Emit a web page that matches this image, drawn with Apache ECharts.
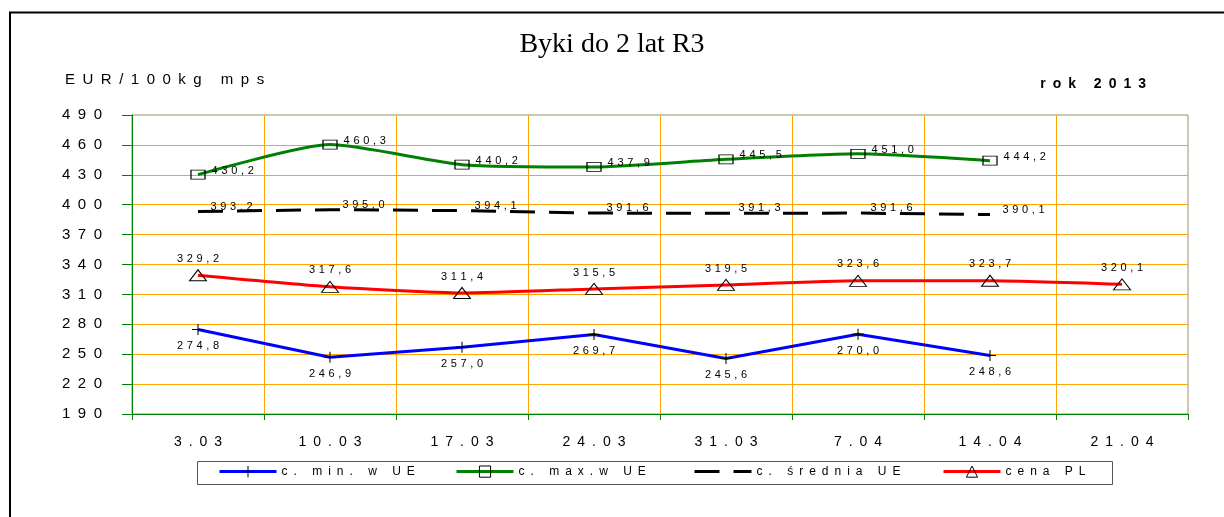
<!DOCTYPE html>
<html>
<head>
<meta charset="utf-8">
<script src="https://cdn.jsdelivr.net/npm/echarts@6/dist/echarts.min.js"></script>
<style>
  html, body { margin: 0; padding: 0; background: #fff; }
  #chart { width: 1224px; height: 517px; }
</style>
</head>
<body>
<div id="chart"></div>
<script>
// dane z wykresu
var categories = ['3.03', '10.03', '17.03', '24.03', '31.03', '7.04', '14.04', '21.04'];
var minUE   = [274.8, 246.9, 257.0, 269.7, 245.6, 270.0, 248.6, null];
var maxUE   = [430.2, 460.3, 440.2, 437.9, 445.5, 451.0, 444.2, null];
var avgUE   = [393.2, 395.0, 394.1, 391.6, 391.3, 391.6, 390.1, null];
var cenaPL  = [329.2, 317.6, 311.4, 315.5, 319.5, 323.6, 323.7, 320.1];
var seriesNames = ['c. min. w UE', 'c. max.w UE', 'c. średnia UE', 'cena PL'];
var yMin = 190, yMax = 490, yStep = 30;

var FONT = 'Liberation Sans, Arial, sans-serif';

// rozstrzelony tekst jak w Excelu
function sp(s, gap) {
    return String(s).split('').join(gap);
}
function num(p) {
    return sp(p.value.toFixed(1).replace('.', ','), '\u2004');
}

var crossPath = 'path://M0,5L10,5M5,0L5,10';
var labelStyle = { show: true, fontSize: 11, color: '#000', fontFamily: FONT, formatter: num };

function legendAt(left, name, lineColor, lineType, itemStyle) {
    return {
        left: left, top: 465.5, padding: 0,
        itemWidth: 57, itemHeight: 14,
        selectedMode: false,
        data: [name],
        formatter: function (n) { return sp(n, '\u2002'); },
        textStyle: { fontSize: 12, color: '#000', fontFamily: FONT },
        lineStyle: { color: lineColor, width: 3, type: lineType },
        itemStyle: itemStyle
    };
}

var chart = echarts.init(document.getElementById('chart'));
var option = {
    animation: false,
    textStyle: { fontFamily: FONT },
    title: {
        text: 'Byki do 2 lat R3',
        left: 'center', top: 26,
        textStyle: { fontFamily: 'Liberation Serif, Times New Roman, serif', fontSize: 28, fontWeight: 'normal', color: '#000' }
    },
    graphic: [
        { type: 'rect', shape: { x: 10, y: 12.5, width: 1240, height: 530 },
          style: { fill: 'none', stroke: '#000', lineWidth: 2 }, silent: true },
        { type: 'text', x: 65, y: 80,
          style: { text: sp('EUR/100kg mps', '\u2002'), fontSize: 15, fill: '#000', fontFamily: FONT, verticalAlign: 'middle' } },
        { type: 'text', x: 1146, y: 84,
          style: { text: sp('rok 2013', '\u2002'), fontSize: 14, fontWeight: 'bold', fill: '#000', fontFamily: FONT, align: 'right', verticalAlign: 'middle' } },
        { type: 'rect', shape: { x: 197.5, y: 461.5, width: 915, height: 23 },
          style: { fill: 'none', stroke: '#555', lineWidth: 1 }, silent: true }
    ],
    legend: [
        legendAt(218, seriesNames[0], '#0000ff', 'solid', { color: 'rgba(0,0,0,0)', borderColor: '#000', borderWidth: 1 }),
        legendAt(455, seriesNames[1], '#008000', 'solid', { color: 'rgba(0,0,0,0)', borderColor: '#000', borderWidth: 1 }),
        legendAt(693, seriesNames[2], '#000', [25, 14], { color: 'rgba(0,0,0,0)', borderColor: 'rgba(0,0,0,0)', borderWidth: 0 }),
        legendAt(942, seriesNames[3], '#ff0000', 'solid', { color: 'rgba(0,0,0,0)', borderColor: '#000', borderWidth: 1 })
    ],
    grid: {
        left: 132, right: 36, top: 115, bottom: 103,
        show: true, borderColor: '#a08c70', borderWidth: 1, backgroundColor: 'transparent'
    },
    xAxis: {
        type: 'category',
        data: categories,
        boundaryGap: true,
        axisLine: { show: true, lineStyle: { color: '#008000', width: 1 } },
        axisTick: { show: true, interval: 0, length: 6, lineStyle: { color: '#008000' } },
        axisLabel: { interval: 0, margin: 21, fontSize: 14, color: '#000',
                     formatter: function (v) { return sp(v, '\u2002'); } },
        splitLine: { show: true, interval: 0, showMinLine: false, showMaxLine: false,
                     lineStyle: { color: '#ffa500', width: 1 } }
    },
    yAxis: {
        type: 'value',
        min: yMin, max: yMax, interval: yStep,
        axisLine: { show: true, lineStyle: { color: '#008000', width: 1 } },
        axisTick: { show: true, length: 10, lineStyle: { color: '#008000' } },
        axisLabel: { margin: 30, fontSize: 15, color: '#000',
                     formatter: function (v) { return sp(v, '\u2002'); } },
        splitLine: { show: true, showMinLine: false, showMaxLine: false,
                     lineStyle: { color: '#ffa500', width: 1 } }
    },
    series: [
        {
            name: seriesNames[0], type: 'line', data: minUE,
            symbol: crossPath, symbolSize: [12, 11],
            lineStyle: { color: '#0000ff', width: 3 },
            itemStyle: { color: 'rgba(0,0,0,0)', borderColor: '#000', borderWidth: 1 },
            label: Object.assign({}, labelStyle, { position: 'bottom', distance: 5 }),
            z: 4
        },
        {
            name: seriesNames[1], type: 'line', data: maxUE, smooth: 0.2,
            symbol: 'rect', symbolSize: [14, 9],
            lineStyle: { color: '#008000', width: 3 },
            itemStyle: { color: 'rgba(0,0,0,0)', borderColor: '#000', borderWidth: 1 },
            label: Object.assign({}, labelStyle, { position: 'right', distance: 6, offset: [0, -4] }),
            z: 4
        },
        {
            name: seriesNames[2], type: 'line', data: avgUE,
            symbol: 'circle', symbolSize: 1,
            lineStyle: { color: '#000', width: 3, type: [25, 14] },
            itemStyle: { color: 'rgba(0,0,0,0)', borderWidth: 0 },
            label: Object.assign({}, labelStyle, { position: 'right', distance: 12, offset: [0, -5] }),
            z: 3
        },
        {
            name: seriesNames[3], type: 'line', data: cenaPL, smooth: 0.2,
            symbol: 'triangle', symbolSize: [17, 11],
            lineStyle: { color: '#ff0000', width: 3 },
            itemStyle: { color: 'rgba(0,0,0,0)', borderColor: '#000', borderWidth: 1 },
            label: Object.assign({}, labelStyle, { position: 'top', distance: 5 }),
            z: 4
        }
    ]
};
chart.setOption(option);
</script>
</body>
</html>
